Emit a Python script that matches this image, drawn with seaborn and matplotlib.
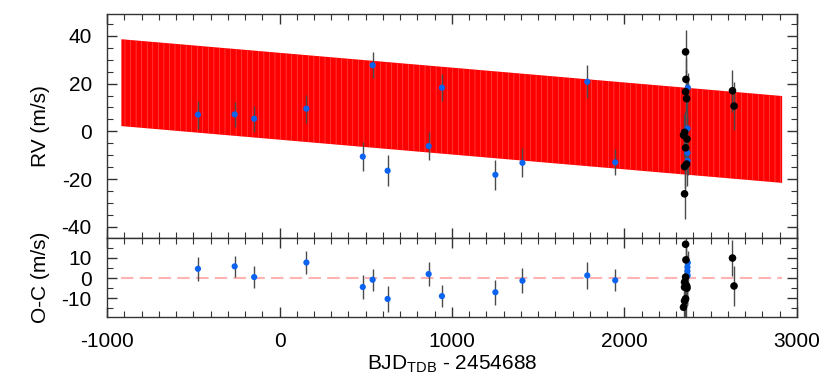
import numpy as np
import pandas as pd
import matplotlib
matplotlib.use("Agg")
import matplotlib.pyplot as plt
import seaborn as sns
from matplotlib.ticker import MultipleLocator

# =============================================================================
# DATA
# =============================================================================

# blue instrument
blue_t = [-473, -260, -147, 156, 483, 540, 627, 865, 942, 1252, 1409, 1785, 1947,
          2368, 2366, 2366, 2367]
blue_rv = [7.0, 7.1, 5.3, 9.5, -10.6, 27.7, -16.5, -6.2, 18.3, -18.2, -13.2, 20.8, -13.0,
           18.3, 1.2, -9.0, -12.3]
blue_err = [5.9, 5.2, 5.4, 5.8, 6.1, 5.5, 6.5, 5.9, 5.6, 6.3, 6.1, 6.8, 5.5,
            6.0, 6.0, 6.0, 6.0]
blue_oc = [4.6, 5.8, 0.5, 7.7, -4.4, -0.8, -10.3, 2.0, -8.9, -7.0, -1.3, 1.3, -1.1,
           7.6, 5.4, 3.4, 1.3]

# black instrument
black_t = [2355, 2357, 2355, 2361, 2349, 2343, 2363, 2355, 2361, 2349, 2349, 2627, 2636]
black_rv = [33.3, 21.8, 16.6, 13.7, -0.4, -1.6, -3.2, -6.9, -13.7, -14.8, -26.2, 17.0, 10.6]
black_err = [9.0, 9.0, 9.0, 9.0, 9.0, 9.0, 9.0, 9.0, 9.0, 9.0, 10.5, 8.7, 10.0]
black_oc = [16.7, 9.0, 0.5, -3.8, -4.5, -14.4, -5.0, -10.2, -4.2, -11.3, -2.0, 9.9, -3.9]

# model envelope (edges of the densely sampled orbit curve)
model_t = [-917, 2915]
model_top = [38.6, 14.8]
model_bot = [2.2, -21.6]

blue = pd.DataFrame({'t': blue_t, 'rv': blue_rv, 'err': blue_err, 'oc': blue_oc})
black = pd.DataFrame({'t': black_t, 'rv': black_rv, 'err': black_err, 'oc': black_oc})

# =============================================================================
# PLOT
# =============================================================================

sns.set_style('ticks')
plt.rcParams['font.family'] = ['Liberation Sans', 'DejaVu Sans']
plt.rcParams['mathtext.default'] = 'regular'
plt.rcParams['axes.unicode_minus'] = False
plt.rcParams['hatch.linewidth'] = 0.4
plt.rcParams['text.color'] = 'black'
plt.rcParams['axes.labelcolor'] = 'black'

fig = plt.figure(figsize=(8.3, 3.87), dpi=100)
ax1 = fig.add_axes([0.129, 0.385, 0.831, 0.579])
ax2 = fig.add_axes([0.129, 0.181, 0.831, 0.204], sharex=ax1)

blue_c = '#0b63f0'
bar_c = '#4a4a4a'

# top panel: RV + model
ax1.fill_between(model_t, model_bot, model_top, facecolor='#ff0000',
                 edgecolor='#ff5a5a', hatch='|||', linewidth=0, zorder=1)
ax1.errorbar(blue.t, blue.rv, yerr=blue.err, fmt='none', ecolor=bar_c, elinewidth=1, zorder=2)
ax1.errorbar(black.t, black.rv, yerr=black.err, fmt='none', ecolor=bar_c, elinewidth=1, zorder=2)
sns.scatterplot(data=blue, x='t', y='rv', ax=ax1, color=blue_c, s=20, edgecolor='none', zorder=3)
sns.scatterplot(data=black, x='t', y='rv', ax=ax1, color='black', s=30, edgecolor='none', zorder=3)

# bottom panel: residuals
ax2.plot(model_t, [0, 0], color='#ffb3b3', lw=1.5, dashes=(6, 3), zorder=1)
ax2.errorbar(blue.t, blue.oc, yerr=blue.err, fmt='none', ecolor=bar_c, elinewidth=1, zorder=2)
ax2.errorbar(black.t, black.oc, yerr=black.err, fmt='none', ecolor=bar_c, elinewidth=1, zorder=2)
sns.scatterplot(data=blue, x='t', y='oc', ax=ax2, color=blue_c, s=20, edgecolor='none', zorder=3)
sns.scatterplot(data=black, x='t', y='oc', ax=ax2, color='black', s=30, edgecolor='none', zorder=3)

ax1.set_xlim(-1000, 3000)
ax1.set_ylim(-44.7, 49.2)
ax2.set_ylim(-19.2, 19.8)

ax1.xaxis.set_major_locator(MultipleLocator(1000))
ax1.xaxis.set_minor_locator(MultipleLocator(100))
ax1.yaxis.set_major_locator(MultipleLocator(20))
ax1.yaxis.set_minor_locator(MultipleLocator(5))
ax2.yaxis.set_major_locator(MultipleLocator(10))
ax2.yaxis.set_minor_locator(MultipleLocator(5))

for ax in (ax1, ax2):
    ax.tick_params(which='both', direction='in', top=True, right=True,
                   color='#333333', labelsize=15, labelcolor='black')
    ax.tick_params(which='major', length=7, width=1, pad=11)
    ax.tick_params(which='minor', length=4, width=0.8)
    for s in ax.spines.values():
        s.set_color('#333333')
        s.set_linewidth(1)

ax1.tick_params(labelbottom=False)
ax1.set_xlabel('')
ax1.set_ylabel('RV (m/s)', fontsize=15, labelpad=8)
ax2.set_ylabel('O-C (m/s)', fontsize=15, labelpad=8)
ax2.set_xlabel('BJD$_{TDB}$ - 2454688', fontsize=15, labelpad=2)
fig.align_ylabels([ax1, ax2])

fig.savefig('out.png', dpi=100)
